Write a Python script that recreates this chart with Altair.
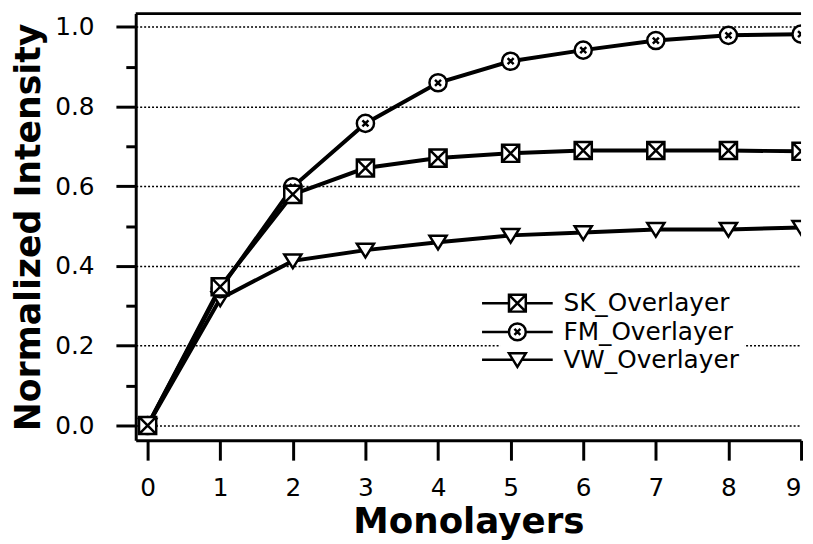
import altair as alt
import pandas as pd

monolayers = [0, 1, 2, 3, 4, 5, 6, 7, 8, 9]
sk_overlayer = [0.0, 0.348, 0.58, 0.646, 0.671, 0.683, 0.69, 0.69, 0.69, 0.688]
fm_overlayer = [0.0, 0.343, 0.599, 0.758, 0.86, 0.914, 0.942, 0.966, 0.979, 0.982]
vw_overlayer = [0.0, 0.318, 0.413, 0.44, 0.46, 0.477, 0.484, 0.492, 0.492, 0.497]
series_names = ["SK_Overlayer", "FM_Overlayer", "VW_Overlayer"]
y_tick_values = [0.0, 0.1, 0.2, 0.3, 0.4, 0.5, 0.6, 0.7, 0.8, 0.9, 1.0]
x_tick_values = [0, 1, 2, 3, 4, 5, 6, 7, 8, 9]

rows = []
for name, vals in [("VW_Overlayer", vw_overlayer), ("FM_Overlayer", fm_overlayer), ("SK_Overlayer", sk_overlayer)]:
    for m, v in zip(monolayers, vals):
        rows.append({"Monolayers": m, "Intensity": v, "Series": name})
df = pd.DataFrame(rows)

plot_paths = [
    "M-1,-1H1V1H-1Z M-1,-1L1,1 M1,-1L-1,1",
    "M-1,0A1,1,0,1,1,1,0A1,1,0,1,1,-1,0Z M-0.35,-0.35L0.35,0.35 M0.35,-0.35L-0.35,0.35",
    "M-1,-0.75L1,-0.75L0,0.85Z",
]
legend_paths = [
    "M-4.2,0H-1M1,0H4.2 M-1,-1H1V1H-1Z M-1,-1L1,1 M1,-1L-1,1",
    "M-4.2,0H-1M1,0H4.2 M-1,0A1,1,0,1,1,1,0A1,1,0,1,1,-1,0Z M-0.35,-0.35L0.35,0.35 M0.35,-0.35L-0.35,0.35",
    "M-4.2,0H-0.55M0.55,0H4.2 M-1,-0.75L1,-0.75L0,0.85Z",
]

FONT = "DejaVu Sans"
even = "round(datum.value*10) % 2 == 0"

x_enc = alt.X(
    "Monolayers:Q",
    scale=alt.Scale(domain=[-0.164, 9.0], nice=False, zero=False),
    axis=alt.Axis(
        values=x_tick_values, title="Monolayers", grid=False,
        tickSize=20, tickWidth=3, tickColor="black",
        domainWidth=3, domainColor="black",
        labelFont=FONT, labelFontSize=25, labelColor="black", labelPadding=16,
        labelFlush=True,
        titleFont=FONT, titleFontSize=36, titleFontWeight="bold", titleColor="black",
        titlePadding=4,
    ),
)
y_enc = alt.Y(
    "Intensity:Q",
    scale=alt.Scale(domain=[-0.0373, 1.0335], nice=False, zero=False),
    axis=alt.Axis(
        values=y_tick_values, title="Normalized Intensity",
        labelExpr="round(datum.value*10) % 2 == 0 ? format(datum.value, '.1f') : ''",
        tickSize={"condition": {"test": even, "value": 20}, "value": 10},
        tickWidth=3, tickColor="black",
        domainWidth=3, domainColor="black",
        grid=True, gridColor="black", gridDash=[2, 2], gridWidth=1.5,
        gridOpacity={"condition": {"test": even, "value": 1}, "value": 0},
        labelFont=FONT, labelFontSize=25, labelColor="black", labelPadding=22,
        titleFont=FONT, titleFontSize=35, titleFontWeight="bold", titleColor="black",
        titlePadding=8,
    ),
)

base = alt.Chart(df)

lines = base.mark_line(color="black", strokeWidth=4, clip=True).encode(
    x=x_enc, y=y_enc, detail="Series:N"
)

points = base.mark_point(
    filled=True, fill="white", stroke="black", strokeWidth=2.5, size=300, opacity=1, clip=True
).encode(
    x=x_enc, y=y_enc,
    shape=alt.Shape("Series:N", scale=alt.Scale(domain=series_names, range=plot_paths), legend=None),
)

legend_layer = base.transform_filter("datum.Monolayers < -100").mark_point(
    filled=False, color="black", strokeWidth=2.5, size=289, opacity=1
).encode(
    x=x_enc, y=y_enc,
    shape=alt.Shape(
        "Series:N",
        scale=alt.Scale(domain=series_names, range=legend_paths),
        legend=alt.Legend(
            title=None, orient="none", legendX=368, legendY=275, padding=5,
            fillColor="white", labelFont=FONT, labelFontSize=25, labelColor="black",
            labelOffset=34, rowPadding=2, labelLimit=400,
            symbolStrokeColor="black", symbolStrokeWidth=2.5, symbolSize=289,
            labelBaseline="middle",
        ),
    ),
)

top_border = alt.Chart(pd.DataFrame({"a": [0]})).mark_rule(color="black", strokeWidth=3).encode(
    y=alt.value(0)
)

chart = alt.layer(lines, points, legend_layer, top_border).resolve_scale(
    shape="independent"
).properties(
    width=672, height=431,
    autosize=alt.AutoSizeParams(type="none"),
    padding={"left": 129, "top": 3, "right": 4, "bottom": 100},
).configure_view(stroke=None)

chart.save("out.html", embed_options={"renderer": "svg", "actions": False})
